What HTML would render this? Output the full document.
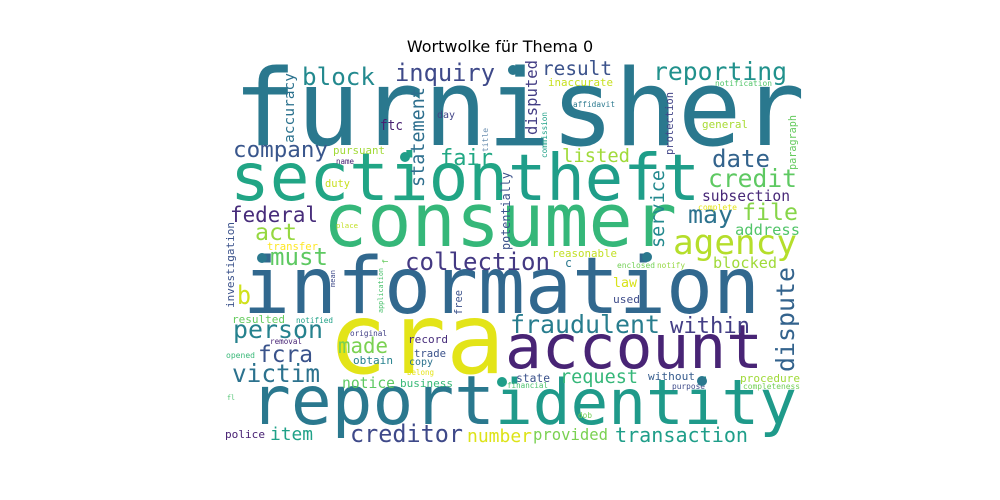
<!DOCTYPE html>
<html><head><meta charset="utf-8"><style>
html,body{margin:0;padding:0;background:#fff;}
svg{display:block;}
text{font-family:"DejaVu Sans Mono","Liberation Mono",monospace;}
</style></head><body>
<svg id="cloud" width="1000" height="500" viewBox="0 0 1000 500">
<text x="500" y="52" text-anchor="middle" font-size="16" fill="#000" style="font-family:'DejaVu Sans','Liberation Sans',sans-serif">Wortwolke für Thema 0</text>
</svg>
<script>
// [word, x, baseline, fontSize, length, color]
const hWords = [
["furnisher",233,145,106,572,"#2a788e"],
["section",230,200,66,278,"#21a585"],
["theft",508,200,64,192,"#1f9e89"],
["consumer",323,246,74,354,"#35b779"],
["agency",673,254,34,124,"#b5de2b"],
["information",243,313,78,517,"#31688e"],
["cra",328,373,98,177,"#e3e418"],
["account",505,368,61,258,"#482475"],
["report",250,424,68,245,"#2a788e"],
["identity",495,424,62,302,"#1f9a8a"],
["block",302,85,24,73,"#23898e"],
["inquiry",395,81,24,100,"#3e4989"],
["reporting",653,80,25,134,"#21918c"],
["result",542,75,19.5,70,"#3b528b"],
["company",233,157,22.6,95,"#39568c"],
["fair",440,165,22,53,"#22a884"],
["date",712,167,24,58,"#33638d"],
["credit",708,187,24.7,89,"#5ec962"],
["subsection",702,201,14.7,88,"#482878"],
["federal",230,222,21,88,"#472c7a"],
["act",255,240,23,42,"#95d840"],
["may",688,223,25,45,"#2c728e"],
["file",742,220,23,56,"#86d549"],
["address",735,235,15.5,65,"#52c569"],
["must",270,265,24,58,"#5ec962"],
["collection",405,270,24,145,"#443983"],
["reasonable",552,257,10.8,65,"#c2df23"],
["c",565,267,12,7,"#2a788e"],
["blocked",713,268,15,64,"#a0da39"],
["enclosed",617,268,8,38,"#73d056"],
["notify",657,268,7.8,28,"#95d840"],
["law",613,287,13,24,"#d8e219"],
["used",613,303,11,27,"#3e4c8a"],
["b",237,304,26,14,"#d0e11c"],
["person",233,338,25,90,"#26828e"],
["fraudulent",510,333,25,150,"#287d8e"],
["within",670,333,22,80,"#433e85"],
["fcra",258,362,23,55,"#3a538b"],
["made",338,353,21,50,"#7ad151"],
["record",408,343,11,40,"#472d7b"],
["trade",414,357,10.7,32,"#3b528b"],
["copy",409,365,10,24,"#2c728e"],
["obtain",353,364,11,40,"#26828e"],
["victim",232,382,24.5,88,"#2c728e"],
["notice",342,388,14.7,53,"#5ec962"],
["business",400,387,11,53,"#38b977"],
["request",560,383,18.6,78,"#35b779"],
["state",516,382,11.3,34,"#3b528b"],
["without",648,380,11,47,"#365c8d"],
["procedure",740,382,11,60,"#a0da39"],
["financial",507,388,7.6,41,"#4ac16d"],
["purpose",672,389,8,33,"#3e4a89"],
["completeness",743,389,8,57,"#73d056"],
["creditor",350,442,23.6,113,"#3e4989"],
["number",467,442,18,65,"#dde318"],
["item",270,440,18,43,"#1fa188"],
["police",225,438,11,40,"#482173"],
["provided",533,440,15.6,75,"#7ad151"],
["transaction",615,442,20,133,"#1f9e89"],
["dob",578,418,8,14,"#73d056"],
["fl",227,400,7,8,"#4ac16d"],
["resulted",232,323,11,53,"#65cb5e"],
["notified",296,323,7.8,37,"#1fa187"],
["original",350,336,7.7,37,"#424086"],
["removal",270,344,7.6,32,"#482576"],
["opened",226,358,8,29,"#3ab979"],
["belong",407,375,7.5,27,"#e5e419"],
["ftc",380,130,14,23,"#481f70"],
["day",437,118,10,18,"#414487"],
["pursuant",333,154,10.8,52,"#a2da37"],
["name",336,164,7.5,18,"#482173"],
["duty",325,187,10.4,25,"#c8e020"],
["place",336,228,7.3,22,"#c2df23"],
["transfer",267,250,10.6,51,"#fde725"],
["inaccurate",548,86,10.8,65,"#c7e020"],
["affidavit",573,107,7.8,42,"#2a788e"],
["notification",715,86,7.9,57,"#52c569"],
["general",702,128,11,46,"#a8db34"],
["listed",562,162,19,68,"#a0da39"],
["complete",698,210,8,39,"#e5e419"]
];
// [word, baselineX, bottomY, fontSize, length, color]
const vWords = [
["accuracy",294,143,14.6,70,"#2c728e"],
["statement",424,187,18.5,100,"#2e6f8e"],
["disputed",537,135,15.6,75,"#433d84"],
["title",488,152,8,24,"#6c8fb0"],
["potentially",510,250,12,78,"#3b528b"],
["commission",547,158,7.7,46,"#1fa187"],
["protection",673,155,10.5,63,"#414487"],
["service",664,248,18.6,78,"#23898e"],
["paragraph",796,170,10.2,55,"#65cb5e"],
["dispute",794,372,25,105,"#33638d"],
["investigation",234,308,11,86,"#3b528b"],
["mean",335,287,7,17,"#3e4a89"],
["application",383,313,6.8,45,"#4ac16d"],
["f",388,264,8,5,"#65cb5e"],
["free",462,315,10.4,25,"#3b528b"]
];
// stray dot tokens [x, y, color]
const dots = [[513,70,"#2a788e"],[405,157,"#1f9e89"],[262,258,"#2a788e"],[647,257,"#2a788e"],[502,382,"#1f9e89"],[702,381,"#2a788e"]];
const svg = document.getElementById('cloud');
const NS = 'http://www.w3.org/2000/svg';
hWords.forEach(w => {
  const t = document.createElementNS(NS,'text');
  t.setAttribute('x', w[1]); t.setAttribute('y', w[2]);
  t.setAttribute('font-size', w[3]);
  t.setAttribute('textLength', w[4]);
  t.setAttribute('lengthAdjust','spacingAndGlyphs');
  t.setAttribute('fill', w[5]);
  t.textContent = w[0];
  
  
  svg.appendChild(t);
});
vWords.forEach(w => {
  const t = document.createElementNS(NS,'text');
  t.setAttribute('x', w[1]); t.setAttribute('y', w[2]);
  t.setAttribute('transform', 'rotate(-90 ' + w[1] + ' ' + w[2] + ')');
  t.setAttribute('font-size', w[3]);
  t.setAttribute('textLength', w[4]);
  t.setAttribute('lengthAdjust','spacingAndGlyphs');
  t.setAttribute('fill', w[5]);
  t.textContent = w[0];
  
  
  svg.appendChild(t);
});
dots.forEach(d => {
  const c = document.createElementNS(NS,'circle');
  c.setAttribute('cx', d[0]); c.setAttribute('cy', d[1]); c.setAttribute('r', 5);
  c.setAttribute('fill', d[2]);
  
  
  svg.appendChild(c);
});
</script>
</body></html>
